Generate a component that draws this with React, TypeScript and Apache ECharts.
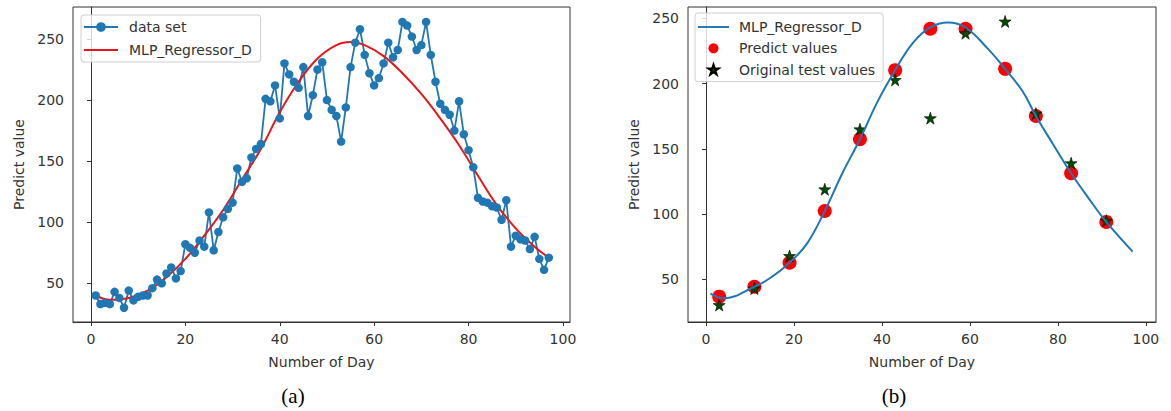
import React, { useEffect, useRef } from "react";
import * as echarts from "echarts";

// ---------- data (a) ----------
const DAYS_A = Array.from({ length: 97 }, (_, i) => i + 1);
const DATA_SET_A = [
  40, 33, 34, 33, 43, 38, 30, 44, 36, 39,
  40, 40, 46, 53, 50, 58, 63, 54, 60, 82,
  79, 75, 85, 80, 108, 77, 92, 104, 111, 116,
  144, 133, 136, 153, 160, 164, 201, 199, 212, 185,
  230, 221, 215, 210, 227, 187, 204, 225, 231, 200,
  192, 187, 166, 194, 227, 247, 258, 237, 222, 212,
  218, 230, 247, 235, 241, 264, 261, 252, 241, 245,
  264, 237, 215, 197, 192, 188, 175, 199, 172, 159,
  145, 120, 117, 116, 113, 112, 102, 118, 80, 89,
  86, 85, 78, 88, 70, 61, 71,
];
const CURVE_A_DAYS = [1, 4, 8, 12, 16, 20, 24, 28, 32, 36, 40, 44, 48, 52, 55, 58, 62, 66, 70, 74, 78, 82, 86, 90, 94, 97];
const CURVE_A_VALUES = [40, 36.5, 38, 44, 55, 70, 89, 110, 135, 160, 190, 215, 234, 245, 247.5, 245, 236, 222, 205, 185, 163, 138, 114, 95, 80, 71];

// ---------- data (b) ----------
const CURVE_B_DAYS = [1, 4, 11, 14.5, 19, 23, 27, 31, 35, 39, 43, 47, 51, 55, 59, 64, 68, 72, 75, 79, 83, 87, 91, 97];
const CURVE_B_VALUES = [39, 35.5, 44.3, 50.8, 62.7, 77.6, 102.4, 131.3, 157.4, 186.2, 210.3, 231, 243, 246.8, 243, 227, 211.3, 193.9, 175.2, 153, 131.3, 112.1, 94, 71.2];
const TEST_DAYS_B = [3, 11, 19, 27, 35, 43, 51, 59, 68, 75, 83, 91];
const PREDICT_B = [36.7, 44.3, 62.7, 102.4, 157.4, 210.3, 242, 242, 211.3, 175.2, 131.3, 94];
const ORIGINAL_B = [30.3, 43, 67.9, 119, 165, 202.8, 173.5, 238.6, 247.6, 177, 139, 95];

// ---------- ticks ----------
const X_TICKS = [0, 20, 40, 60, 80, 100];
const Y_TICKS = [50, 100, 150, 200, 250];

const FONT = "DejaVu Sans";
const TEXT = "#333";
const STAR =
  "path://M50,0 L61.2,34.5 L97.6,34.5 L68.2,55.9 L79.4,90.5 L50,69.1 L20.6,90.5 L31.8,55.9 L2.4,34.5 L38.8,34.5 Z";
const LINE_ICON = "path://M0,0 L32,0 L32,2 L0,2 Z";

const xAxis = (min: number, max: number) => ({
  type: "value",
  min,
  max,
  axisLine: { show: true, lineStyle: { color: TEXT, width: 1 } },
  splitLine: { show: false },
  axisTick: { show: true, length: 4, lineStyle: { color: TEXT }, customValues: X_TICKS },
  axisLabel: { customValues: X_TICKS, fontSize: 14, color: TEXT, fontFamily: FONT, margin: 10 },
  name: "Number of Day",
  nameLocation: "middle",
  nameGap: 33,
  nameTextStyle: { fontSize: 14, color: TEXT, fontFamily: FONT },
});

const yAxis = (min: number, max: number) => ({
  type: "value",
  min,
  max,
  axisLine: { show: true, lineStyle: { color: TEXT, width: 1 } },
  splitLine: { show: false },
  axisTick: { show: true, length: 4, lineStyle: { color: TEXT }, customValues: Y_TICKS },
  axisLabel: { customValues: Y_TICKS, fontSize: 14, color: TEXT, fontFamily: FONT, margin: 9 },
  name: "Predict value",
  nameLocation: "middle",
  nameGap: 46,
  nameTextStyle: { fontSize: 14, color: TEXT, fontFamily: FONT },
});

const caption = (text: string, x: number) => ({
  type: "text",
  x,
  y: 396,
  style: {
    text,
    fontFamily: "Liberation Serif",
    fontSize: 21,
    fill: "#000",
    align: "center",
    verticalAlign: "middle",
  },
});

const legendBase = {
  orient: "vertical",
  selectedMode: false,
  symbolKeepAspect: true,
  backgroundColor: "rgba(255,255,255,0.8)",
  borderColor: "#cfcfcf",
  borderWidth: 1,
  borderRadius: 3,
};

const optionA = {
  animation: false,
  grid: { left: 73, top: 7, width: 497, height: 315, show: true, borderColor: TEXT, borderWidth: 1, backgroundColor: "#fff" },
  xAxis: xAxis(-3.81, 101.5),
  yAxis: yAxis(18.3, 276.2),
  legend: {
    ...legendBase,
    left: 81,
    top: 15,
    padding: [5, 9, 5, 2],
    itemGap: 9,
    itemWidth: 34,
    itemHeight: 12,
    textStyle: { fontSize: 14, color: TEXT, fontFamily: FONT, lineHeight: 14, padding: [0, 0, 0, 6] },
    data: ["data set", { name: "MLP_Regressor_D", icon: LINE_ICON }],
  },
  series: [
    {
      name: "data set",
      type: "line",
      data: DAYS_A.map((d, i) => [d, DATA_SET_A[i]]),
      symbol: "circle",
      symbolSize: 8.5,
      showSymbol: true,
      color: "#1f77b4",
      itemStyle: { color: "#1f77b4" },
      lineStyle: { color: "#1f77b4", width: 1.8 },
    },
    {
      name: "MLP_Regressor_D",
      type: "line",
      data: CURVE_A_DAYS.map((d, i) => [d, CURVE_A_VALUES[i]]),
      smooth: 0.4,
      symbol: "none",
      color: "#e8161b",
      lineStyle: { color: "#e8161b", width: 2 },
    },
  ],
  graphic: [caption("(a)", 293)],
};

const optionB = {
  animation: false,
  grid: { left: 88, top: 7, width: 468, height: 315, show: true, borderColor: TEXT, borderWidth: 1, backgroundColor: "#fff" },
  xAxis: xAxis(-4.09, 102.3),
  yAxis: yAxis(17.3, 258.7),
  legend: {
    ...legendBase,
    left: 95,
    top: 13,
    padding: [7, 8, 5, 3],
    itemGap: 7.3,
    itemWidth: 31,
    itemHeight: 10,
    textStyle: { fontSize: 14, color: TEXT, fontFamily: FONT, lineHeight: 14, padding: [0, 0, 0, 5] },
    data: [{ name: "MLP_Regressor_D", icon: LINE_ICON }, "Predict values", "Original test values"],
  },
  series: [
    {
      name: "MLP_Regressor_D",
      type: "line",
      data: CURVE_B_DAYS.map((d, i) => [d, CURVE_B_VALUES[i]]),
      smooth: 0.4,
      symbol: "none",
      color: "#1f77b4",
      lineStyle: { color: "#1f77b4", width: 2 },
    },
    {
      name: "Predict values",
      type: "scatter",
      data: TEST_DAYS_B.map((d, i) => [d, PREDICT_B[i]]),
      symbol: "circle",
      symbolSize: 14,
      itemStyle: { color: "#ff0000", opacity: 1 },
    },
    {
      name: "Original test values",
      type: "scatter",
      data: TEST_DAYS_B.map((d, i) => [d, ORIGINAL_B[i]]),
      symbol: STAR,
      symbolSize: 12,
      itemStyle: { color: "#004d00", borderColor: "#000", borderWidth: 0.6, opacity: 1 },
    },
  ],
  graphic: [caption("(b)", 294)],
};

export default function App() {
  const refA = useRef<HTMLDivElement>(null);
  const refB = useRef<HTMLDivElement>(null);

  useEffect(() => {
    const a = echarts.init(refA.current!, undefined, { renderer: "svg" });
    const b = echarts.init(refB.current!, undefined, { renderer: "svg" });
    a.setOption(optionA as any);
    b.setOption(optionB as any);
    return () => {
      a.dispose();
      b.dispose();
    };
  }, []);

  return (
    <div style={{ position: "fixed", left: 0, top: 0, width: 1171, height: 411, background: "#fff" }}>
      <div ref={refA} style={{ position: "absolute", left: 0, top: 0, width: 600, height: 411 }} />
      <div ref={refB} style={{ position: "absolute", left: 600, top: 0, width: 571, height: 411 }} />
    </div>
  );
}
